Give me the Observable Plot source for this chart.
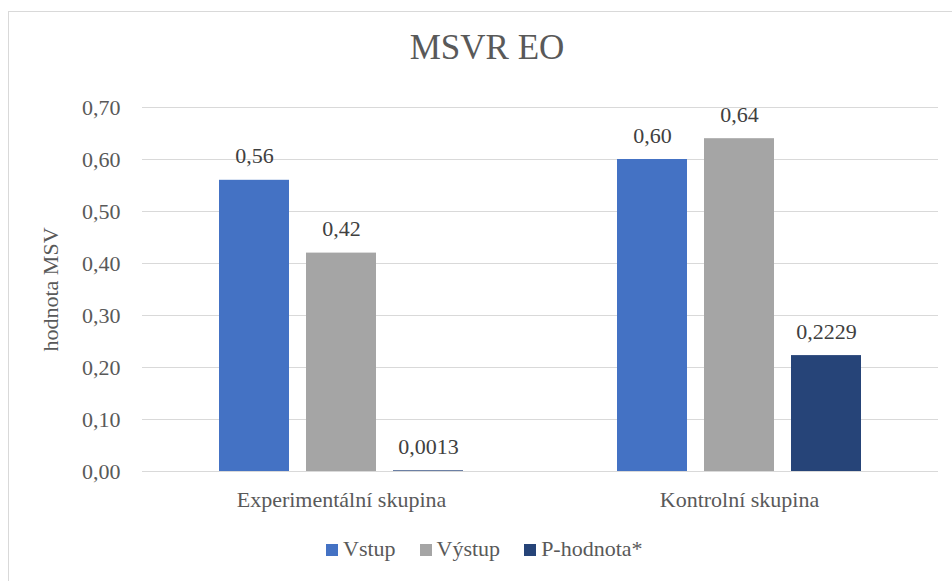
<!DOCTYPE html>
<html>
<head>
<meta charset="utf-8">
<script src="https://cdn.jsdelivr.net/npm/d3@7"></script>
<script src="https://cdn.jsdelivr.net/npm/@observablehq/plot@0.6"></script>
</head>
<body style="margin:0;padding:0;background:#fff;overflow:hidden;font-family:'Liberation Serif', Tinos, serif">
<div id="chart" style="position:relative;width:952px;height:581px;overflow:hidden;font-family:'Liberation Serif', Tinos, serif">
  <div style="position:absolute;left:8px;top:11px;width:980px;height:620px;border:1px solid #d9d9d9;box-sizing:border-box"></div>
  <div id="title" style="position:absolute;left:0;width:974px;top:30px;text-align:center;font-size:35px;color:#595959;line-height:1;font-family:'Liberation Serif', Tinos, serif">MSVR EO</div>
  <div id="plot" style="position:absolute;left:0;top:0"></div>
  <div id="legend" style="position:absolute;top:536px;left:326px;display:flex;align-items:center;font-size:22px;color:#595959;white-space:nowrap;font-family:'Liberation Serif', Tinos, serif"></div>
</div>
<script>
// Groups on the horizontal axis
const groups = ["Experimentální skupina", "Kontrolní skupina"];
// Series shown side by side inside each group
const series = ["Vstup", "Výstup", "P-hodnota*"];
const seriesColors = ["#4472C4", "#A5A5A5", "#264478"];
// Decimal places used in each series' value labels
const seriesDecimals = [2, 2, 4];
// Values per series, in group order
const vstup = [0.56, 0.60];
const vystup = [0.42, 0.64];
const pHodnota = [0.0013, 0.2229];
// Y axis ticks
const yTicks = [0, 0.1, 0.2, 0.3, 0.4, 0.5, 0.6, 0.7];

const seriesValues = [vstup, vystup, pHodnota];
const rows = [];
groups.forEach((g, gi) => {
  series.forEach((s, si) => {
    rows.push({group: g, series: s, value: seriesValues[si][gi], decimals: seriesDecimals[si]});
  });
});

const comma = (v, d) => v.toFixed(d).replace(".", ",");
const font = "Liberation Serif";

const plot = Plot.plot({
  width: 952,
  height: 581,
  marginLeft: 142,
  marginRight: 14,
  marginTop: 107,
  marginBottom: 110,
  style: {fontFamily: font, background: "transparent"},
  fx: {domain: groups, padding: 0},
  x: {domain: series, paddingInner: 0.2, paddingOuter: 0.874, axis: null},
  y: {domain: [0, 0.7]},
  color: {domain: series, range: seriesColors},
  marks: [
    Plot.ruleY(yTicks, {stroke: "#d9d9d9", strokeWidth: 1.2}),
    Plot.barY(rows, {fx: "group", x: "series", y: "value", fill: "series"}),
    Plot.text(rows, {
      fx: "group", x: "series", y: "value",
      text: d => comma(d.value, d.decimals),
      dy: -17, lineAnchor: "bottom",
      fontSize: 22, fill: "#404040", fontFamily: font
    }),
    Plot.axisY({
      ticks: yTicks,
      tickFormat: v => comma(v, 2),
      tickSize: 0, tickPadding: 22,
      fontSize: 22, color: "#595959", fontFamily: font,
      label: "hodnota MSV", labelAnchor: "center", labelArrow: "none", labelOffset: 100
    }),
    Plot.axisFx({
      anchor: "bottom", tickSize: 0, tickPadding: 20,
      fontSize: 22, color: "#595959", fontFamily: font, label: null
    })
  ]
});
plot.setAttribute("font-family", font);
plot.querySelectorAll("text").forEach(t => t.style.fontFamily = "'Liberation Serif', Tinos, serif");
document.getElementById("plot").appendChild(plot);

// Legend built from the same series and colours
const legend = d3.select("#legend");
series.forEach((s, i) => {
  const item = legend.append("div")
    .style("display", "flex").style("align-items", "center").style("margin-right", "24px");
  item.append("div")
    .style("width", "12px").style("height", "12px").style("margin-right", "5px").style("margin-top", "2px")
    .style("background", seriesColors[i]);
  item.append("span").text(s);
});
</script>
</body>
</html>
